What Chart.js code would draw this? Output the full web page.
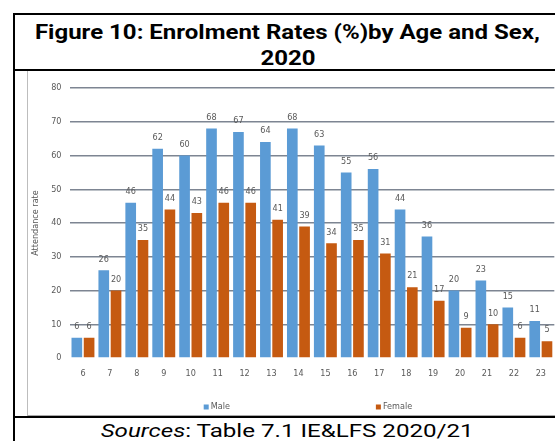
<!DOCTYPE html>
<html>
<head>
<meta charset="utf-8">
<script src="https://cdn.jsdelivr.net/npm/chart.js@4/dist/chart.umd.min.js"></script>
<style>
  html, body { margin: 0; padding: 0; background: #fff; width: 555px; height: 441px; overflow: hidden; }
  #frame { position: absolute; left: 13px; top: 13px; width: 600px; height: 460px;
           border-left: 2px solid #000; border-top: 2px solid #000; }
  #title { position: absolute; left: 0; top: 0; width: 545px; height: 50px;
           border-bottom: 2px solid #000; font-family: Roboto, sans-serif; font-weight: bold;
           font-size: 20px; line-height: 26px; text-align: center; color: #000; padding-top: 4px; box-sizing: content-box; }
  #title .ln { display: inline-block; transform: scaleX(1.2); transform-origin: center; white-space: nowrap; }
  #chartcell { position: absolute; left: 0; top: 56px; width: 600px; height: 345px; border-bottom: 2px solid #000; }
  #imgbox { position: absolute; left: 12px; top: 0; width: 600px; height: 344px;
            border-left: 1px solid #bdbdbd; border-bottom: 1px solid #a9a9a9; }
  #chartwrap { position: absolute; left: 0; top: 0; width: 528px; height: 344px; }
  #source { position: absolute; left: 0; top: 404px; width: 545px; text-align: center;
            font-family: Roboto, sans-serif; font-size: 18px; line-height: 24px; color: #000; }
  #source .ln { display: inline-block; transform: scaleX(1.34); transform-origin: center; white-space: nowrap; }
</style>
</head>
<body>
<div id="frame">
  <div id="title"><span class="ln">Figure 10: Enrolment Rates (%)by Age and Sex,</span><br><span class="ln">2020</span></div>
  <div id="chartcell">
    <div id="imgbox">
      <div id="chartwrap"><canvas id="c" width="528" height="344"></canvas></div>
    </div>
  </div>
  <div id="source"><span class="ln"><i>Sources</i>: Table 7.1 IE&amp;LFS 2020/21</span></div>
</div>
<script>
const ages = ['6','7','8','9','10','11','12','13','14','15','16','17','18','19','20','21','22','23'];
const maleRates = [6, 26, 46, 62, 60, 68, 67, 64, 68, 63, 55, 56, 44, 36, 20, 23, 15, 11];
const femaleRates = [6, 20, 35, 44, 43, 46, 46, 41, 39, 34, 35, 31, 21, 17, 9, 10, 6, 5];
const yTicks = [0, 10, 20, 30, 40, 50, 60, 70, 80];

const smallFont = "'Liberation Sans Narrow', 'DejaVu Sans Condensed', 'Liberation Sans', sans-serif";

const valueLabels = {
  id: 'valueLabels',
  afterDatasetsDraw(chart) {
    const ctx = chart.ctx;
    ctx.save();
    ctx.font = '9px ' + smallFont;
    ctx.fillStyle = '#595959';
    ctx.textAlign = 'center';
    ctx.textBaseline = 'middle';
    chart.data.datasets.forEach((ds, di) => {
      const meta = chart.getDatasetMeta(di);
      meta.data.forEach((bar, i) => {
        ctx.fillText(String(ds.data[i]), bar.x, bar.y - 11);
      });
    });
    ctx.restore();
  }
};

const bottomLegend = {
  id: 'bottomLegend',
  afterDraw(chart) {
    const ctx = chart.ctx;
    ctx.save();
    ctx.font = '9px ' + smallFont;
    ctx.textBaseline = 'middle';
    ctx.textAlign = 'left';
    const box = 5, gapText = 2, gapItems = 146;
    const items = chart.data.datasets.map(ds => ({ label: ds.label, color: ds.backgroundColor,
      w: box + gapText + ctx.measureText(ds.label).width }));
    const total = items.reduce((s, it) => s + it.w, 0) + gapItems * (items.length - 1);
    const ca = chart.chartArea;
    let x = (ca.left + ca.right) / 2 - total / 2 - 4;
    const y = chart.height - 8;
    items.forEach(it => {
      ctx.fillStyle = it.color;
      ctx.fillRect(x, y - box / 2, box, box);
      ctx.fillStyle = '#595959';
      ctx.fillText(it.label, x + box + gapText, y);
      x += it.w + gapItems;
    });
    ctx.restore();
  }
};

new Chart(document.getElementById('c'), {
  type: 'bar',
  data: {
    labels: ages,
    datasets: [
      { label: 'Male', data: maleRates, backgroundColor: '#5B9BD5', categoryPercentage: 0.91, barPercentage: 0.87 },
      { label: 'Female', data: femaleRates, backgroundColor: '#C55A11', categoryPercentage: 0.91, barPercentage: 0.87 }
    ]
  },
  options: {
    responsive: false,
    animation: false,
    events: [],
    layout: { padding: { top: 17, left: 0, right: 0, bottom: 35 } },
    plugins: { legend: { display: false }, tooltip: { enabled: false } },
    scales: {
      x: {
        afterFit(scale) { scale.height = 22; },
        grid: { display: false, drawTicks: false },
        border: { display: false },
        ticks: { color: '#595959', font: { family: smallFont, size: 9 }, padding: 10, maxRotation: 0 }
      },
      y: {
        min: 0, max: 80,
        afterBuildTicks(scale) { scale.ticks = yTicks.map(v => ({ value: v })); },
        afterFit(scale) { scale.width = 41.5; },
        grid: { color: ctx => ctx.tick && ctx.tick.value === 0 ? 'rgba(0,0,0,0)' : '#7d8592', lineWidth: 1.5, drawTicks: false },
        border: { display: false },
        ticks: { color: '#595959', font: { family: smallFont, size: 9 }, padding: 8 },
        title: { display: true, text: 'Attendance rate', color: '#595959', font: { family: smallFont, size: 9 }, padding: { top: 2, bottom: 0 } }
      }
    }
  },
  plugins: [valueLabels, bottomLegend]
});
</script>
</body>
</html>
